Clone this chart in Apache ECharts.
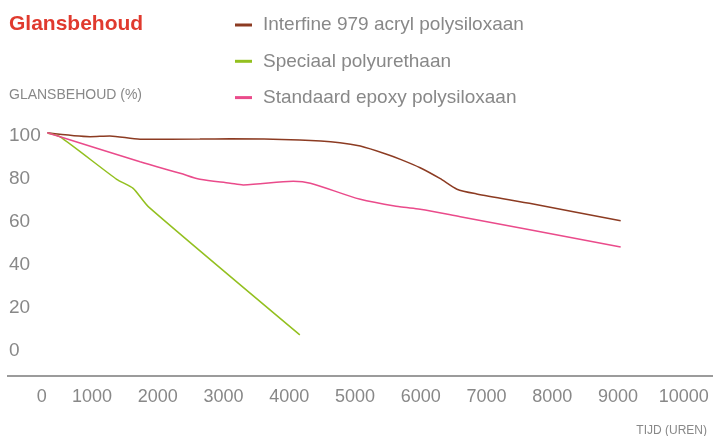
<!DOCTYPE html>
<html>
<head>
<meta charset="utf-8">
<script src="https://cdn.jsdelivr.net/npm/echarts@6/dist/echarts.min.js"></script>
<style>
  html, body { margin: 0; padding: 0; background: #fff; }
  #chart { width: 713px; height: 436px; }
</style>
</head>
<body>
<div id="chart"></div>
<script>
// glansbehoud (%) tegen tijd (uren)
const seriesNames = ['Interfine 979 acryl polysiloxaan', 'Speciaal polyurethaan', 'Standaard epoxy polysiloxaan']
const seriesColors = ['#8c3b22', '#93c01f', '#ea4b8b']

const interfineHours = [320, 970, 1270, 1730, 2640, 3100, 4160, 4770, 5080, 5480, 5700, 5990, 6290, 6550, 6850, 7710, 9040]
const interfineGloss = [101.5, 99.7, 100, 98.5, 98.6, 98.7, 98.1, 96.9, 95.3, 91.5, 89, 85.2, 80.2, 75.2, 73, 68.3, 60.5]

const polyurethaanHours = [330, 510, 1375, 1625, 1855, 4160]
const polyurethaanGloss = [101.3, 99.7, 79.8, 75.6, 67.1, 7.3]

const epoxyHours = [320, 1730, 2340, 2640, 3100, 3300, 4060, 4320, 5080, 5680, 5990, 6600, 9040]
const epoxyGloss = [101.5, 88, 82.6, 79.8, 78, 77.2, 78.9, 78, 70.5, 67, 65.9, 62.4, 48.2]

const xTicks = { min: 0, max: 10000, interval: 1000 }
const yTicks = { min: 0, max: 100, interval: 20 }

function pairs(xs, ys) {
  return xs.map((x, i) => [x, ys[i]])
}

const chart = echarts.init(document.getElementById('chart'), null, { renderer: 'canvas' })
const font = 'Liberation Sans, Arial, sans-serif'
const grey = '#888888'

const option = {
  backgroundColor: '#fff',
  animation: false,
  title: [
    {
      text: 'Glansbehoud',
      left: 9, top: 14, padding: 0,
      textStyle: { color: '#e03a2e', fontSize: 21, fontWeight: 'bold', fontFamily: font }
    },
    {
      text: 'GLANSBEHOUD (%)',
      left: 9, top: 88, padding: 0,
      textStyle: { color: grey, fontSize: 14, fontWeight: 'normal', fontFamily: font }
    },
    {
      text: 'TIJD (UREN)',
      right: 6, top: 425, padding: 0,
      textStyle: { color: grey, fontSize: 12, fontWeight: 'normal', fontFamily: font }
    }
  ],
  legend: {
    orient: 'vertical',
    left: 235, top: 15.5, padding: 0,
    itemWidth: 17, itemHeight: 3,
    itemGap: 17.3,
    icon: 'rect',
    data: seriesNames,
    textStyle: { color: grey, fontSize: 19, fontFamily: font, lineHeight: 19, padding: [0, 0, 0, 6] }
  },
  grid: { left: 26.3, right: 29.2, top: 136, bottom: 85.5 },
  xAxis: {
    type: 'value',
    min: xTicks.min, max: xTicks.max, interval: xTicks.interval,
    offset: 25.5,
    axisLine: { show: false },
    axisTick: { show: false },
    splitLine: { show: false },
    axisLabel: {
      color: grey, fontSize: 18, fontFamily: font, margin: 12,
      formatter: v => v === 0 ? '{z|0}' : String(v),
      rich: { z: { color: grey, fontSize: 18, fontFamily: font, padding: [0, 0, 0, 31] } }
    }
  },
  yAxis: {
    type: 'value',
    min: yTicks.min, max: yTicks.max, interval: yTicks.interval,
    axisLine: { show: false },
    axisTick: { show: false },
    splitLine: { show: false },
    axisLabel: { color: grey, fontSize: 19, fontFamily: font, align: 'left', margin: 17.3 }
  },
  graphic: [
    {
      type: 'line',
      shape: { x1: 7, y1: 376, x2: 713, y2: 376 },
      style: { stroke: '#7a7a7a', lineWidth: 1.5 }
    }
  ],
  series: [
    {
      name: seriesNames[0], type: 'line', data: pairs(interfineHours, interfineGloss),
      smooth: 0.25, symbol: 'none', clip: false,
      lineStyle: { color: seriesColors[0], width: 1.5 }, itemStyle: { color: seriesColors[0] }
    },
    {
      name: seriesNames[1], type: 'line', data: pairs(polyurethaanHours, polyurethaanGloss),
      smooth: 0.2, symbol: 'none', clip: false,
      lineStyle: { color: seriesColors[1], width: 1.5 }, itemStyle: { color: seriesColors[1] }
    },
    {
      name: seriesNames[2], type: 'line', data: pairs(epoxyHours, epoxyGloss),
      smooth: 0.3, symbol: 'none', clip: false,
      lineStyle: { color: seriesColors[2], width: 1.5 }, itemStyle: { color: seriesColors[2] }
    }
  ]
}

chart.setOption(option)
</script>
</body>
</html>
